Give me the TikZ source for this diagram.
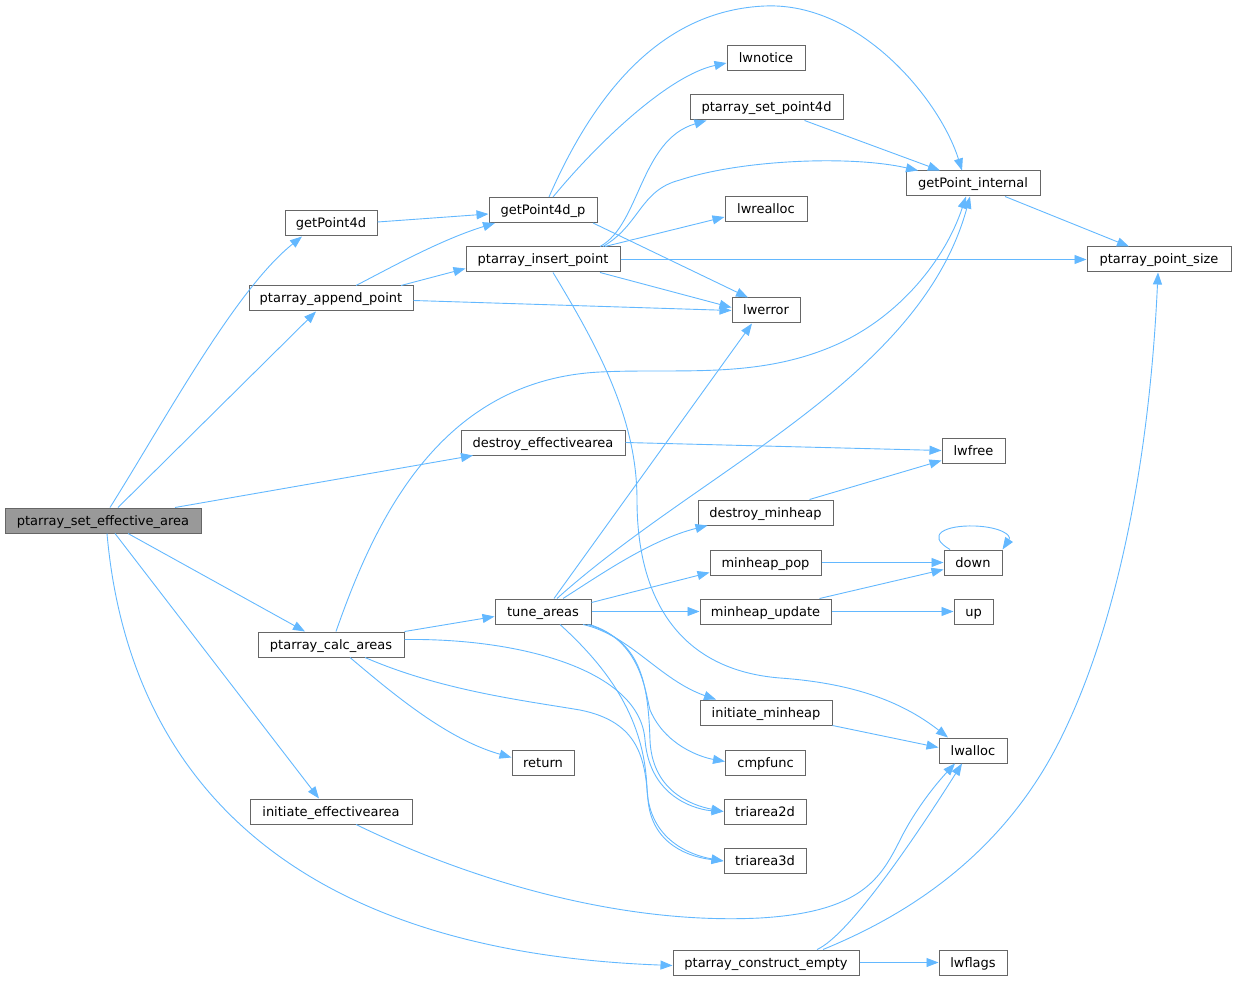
\documentclass[tikz,border=0pt]{standalone}
\usepackage{fontspec}
\setmainfont{DejaVu Sans}
\usetikzlibrary{arrows.meta}
\definecolor{edgeblue}{HTML}{63B8FF}
\definecolor{boxgray}{HTML}{666666}
\definecolor{rootfill}{HTML}{999999}
\tikzset{
  fn/.style={draw=boxgray, line width=1pt, fill=white, minimum height=25, inner sep=0pt,
    text height=10.5pt, text depth=1.5pt,
    font=\fontsize{13}{15}\selectfont, text=black},
  rootfn/.style={fn, fill=rootfill},
  call/.style={draw=edgeblue, line width=0.9pt, -{Triangle[length=12pt,width=9pt]}, fill=none},
}
\begin{document}
\begin{tikzpicture}[x=1pt,y=-1pt]
\useasboundingbox (0,0) rectangle (1236,981);
% nodes
\node[rootfn, minimum width=196] (R) at (103,520.5) {ptarray\_set\_effective\_area};
\node[fn, minimum width=92] (g4d) at (331,223.5) {getPoint4d};
\node[fn, minimum width=164] (app) at (331,298.5) {ptarray\_append\_point};
\node[fn, minimum width=108] (g4dp) at (543,210) {getPoint4d\_p};
\node[fn, minimum width=154] (ins) at (543,259.5) {ptarray\_insert\_point};
\node[fn, minimum width=78] (notice) at (766,58.5) {lwnotice};
\node[fn, minimum width=153] (sp4) at (766.5,107.5) {ptarray\_set\_point4d};
\node[fn, minimum width=82] (realloc) at (766,209) {lwrealloc};
\node[fn, minimum width=68] (lwerror) at (766,310.5) {lwerror};
\node[fn, minimum width=134] (gpi) at (973,183.5) {getPoint\_internal};
\node[fn, minimum width=144] (ps) at (1159,259.5) {ptarray\_point\_size};
\node[fn, minimum width=63] (lwfree) at (973.5,450.5) {lwfree};
\node[fn, minimum width=164] (dea) at (543,442.5) {destroy\_effectivearea};
\node[fn, minimum width=135] (dmh) at (765.5,512.5) {destroy\_minheap};
\node[fn, minimum width=111] (mpop) at (765.5,562.5) {minheap\_pop};
\node[fn, minimum width=58] (down) at (973,562.5) {down};
\node[fn, minimum width=96] (tune) at (543,611.5) {tune\_areas};
\node[fn, minimum width=131] (mupd) at (765.5,611.5) {minheap\_update};
\node[fn, minimum width=39] (up) at (973.5,611.5) {up};
\node[fn, minimum width=146] (calc) at (331,644.5) {ptarray\_calc\_areas};
\node[fn, minimum width=132] (imh) at (766,712.5) {initiate\_minheap};
\node[fn, minimum width=68] (lwalloc) at (973,750.5) {lwalloc};
\node[fn, minimum width=80] (cmp) at (765.5,762.5) {cmpfunc};
\node[fn, minimum width=62] (ret) at (543,762.5) {return};
\node[fn, minimum width=162] (ie) at (331,811.5) {initiate\_effectivearea};
\node[fn, minimum width=82] (t2d) at (765,811.5) {triarea2d};
\node[fn, minimum width=82] (t3d) at (765,861) {triarea3d};
\node[fn, minimum width=186] (ce) at (766,962.5) {ptarray\_construct\_empty};
\node[fn, minimum width=68] (lwflags) at (973,962.5) {lwflags};

% edges from root
\draw[call] ([xshift=7]R.north) .. controls (165,420) and (235,290) .. ([xshift=-29]g4d.south);
\draw[call] ([xshift=15]R.north) -- ([xshift=-15]app.south);
\draw[call] ([xshift=72]R.north) -- ([xshift=-70]dea.south);
\draw[call] ([xshift=25]R.south) -- ([xshift=-26]calc.north);
\draw[call] ([xshift=12]R.south) -- ([xshift=-12]ie.north);
\draw[call] ([xshift=4]R.south) .. controls (125,740) and (250,950) .. ([yshift=-3]ce.west);

% getPoint4d
\draw[call] ([yshift=1.5]g4d.east) -- ([yshift=-4]g4dp.west);
% append
\draw[call] ([xshift=25]app.north) .. controls (390,268) and (440,240) .. ([xshift=-48]g4dp.south);
\draw[call] ([xshift=70]app.north) -- ([yshift=-9]ins.west);
\draw[call] ([yshift=-2]app.east) -- (lwerror.west);

% getPoint4d_p
\draw[call] ([xshift=6]g4dp.north) .. controls (600,80) and (670,10) .. (765,6)
   .. controls (860,2) and (940,100) .. ([xshift=-11]gpi.north);
\draw[call] ([xshift=10]g4dp.north) .. controls (600,140) and (670,75) .. ([yshift=-4.5]notice.west);
\draw[call] ([xshift=50]g4dp.south) -- ([xshift=-18]lwerror.north);

% insert_point
\draw[call] ([xshift=57]ins.north) .. controls (640,225) and (640,140) .. ([xshift=-60]sp4.south);
\draw[call] ([xshift=60]ins.north) .. controls (640,225) and (640,190) .. (680,180)
   .. controls (740,160) and (850,155) .. ([xshift=-55]gpi.north);
\draw[call] ([xshift=62]ins.north) -- ([yshift=-8]realloc.west);
\draw[call] (ins.east) -- (ps.west);
\draw[call] ([xshift=57]ins.south) -- ([yshift=3]lwerror.west);
\draw[call] ([xshift=10]ins.south) .. controls (600,350) and (637,420) .. (637,500)
   .. controls (637,600) and (680,670) .. (780,678)
   .. controls (850,683) and (900,700) .. ([xshift=-25]lwalloc.north);

% set_point4d, getPoint_internal
\draw[call] ([xshift=38]sp4.south) -- ([xshift=-33]gpi.north);
\draw[call] ([xshift=32]gpi.south) -- ([xshift=-30]ps.north);

% construct_empty
\draw[call] ([xshift=57]ce.north) .. controls (900,918) and (1000,860) .. (1060,740)
   .. controls (1120,620) and (1150,450) .. ([xshift=-1]ps.south);
\draw[call] ([xshift=51]ce.north) .. controls (850,935) and (920,830) .. ([xshift=-11]lwalloc.south);
\draw[call] (ce.east) -- (lwflags.west);

% calc_areas
\draw[call] ([xshift=5]calc.north) .. controls (375,520) and (440,380) .. (600,372)
   .. controls (680,368) and (760,380) .. (840,343)
   .. controls (900,315) and (945,260) .. ([xshift=-7]gpi.south);
\draw[call] (calc.north east) -- ([yshift=-5]tune.west);
\draw[call] ([xshift=19]calc.south) .. controls (400,700) and (450,740) .. ([yshift=5]ret.west);
\draw[call] ([yshift=5]calc.east) .. controls (520,638) and (640,670) .. (645,740)
   .. controls (650,800) and (700,810) .. (t2d.west);
\draw[call] ([xshift=34]calc.south) .. controls (440,690) and (520,700) .. (580,710)
   .. controls (640,722) and (645,760) .. (648,800)
   .. controls (652,845) and (690,857) .. (t3d.west);

% tune_areas
\draw[call] ([xshift=11]tune.north) -- ([xshift=-14]lwerror.south);
\draw[call] ([xshift=14]tune.north) .. controls (700,470) and (920,380) .. ([xshift=-3]gpi.south);
\draw[call] ([xshift=20]tune.north) .. controls (600,575) and (650,540) .. ([xshift=-58]dmh.south);
\draw[call] ([yshift=9]tune.east) -- ([yshift=-10]mpop.west);
\draw[call] (tune.east) -- (mupd.west);
\draw[call] ([xshift=40]tune.south) .. controls (630,635) and (660,680) .. ([xshift=-50]imh.north);
\draw[call] ([xshift=-2]tune.south east) .. controls (640,640) and (645,690) .. (650,710)
   .. controls (665,745) and (700,757) .. ([yshift=1]cmp.west);
\draw[call] ([xshift=-4]tune.south east) .. controls (640,640) and (648,680) .. (650,740)
   .. controls (652,790) and (690,805) .. (t2d.west);
\draw[call] ([xshift=17]tune.south) .. controls (610,670) and (645,720) .. (647,790)
   .. controls (650,840) and (690,855) .. (t3d.west);

% others
\draw[call] (dea.east) -- (lwfree.west);
\draw[call] ([xshift=44]dmh.north) -- ([yshift=3]lwfree.south west);
\draw[call] (mpop.east) -- (down.west);
\draw[call] ([xshift=54]mupd.north) -- ([yshift=-7]down.west);
\draw[call] (mupd.east) -- (up.west);
\draw[call] ([xshift=-23]down.north) .. controls (925,535) and (945,525) .. (975,526)
   .. controls (1000,527) and (1012,535) .. (down.north east);
\draw[call] (imh.south east) -- ([yshift=3]lwalloc.west);
\draw[call] ([xshift=25]ie.south) .. controls (470,880) and (620,925) .. (760,918)
   .. controls (860,912) and (880,880) .. (900,840)
   .. controls (915,810) and (935,785) .. ([xshift=-18]lwalloc.south);
\end{tikzpicture}
\end{document}
